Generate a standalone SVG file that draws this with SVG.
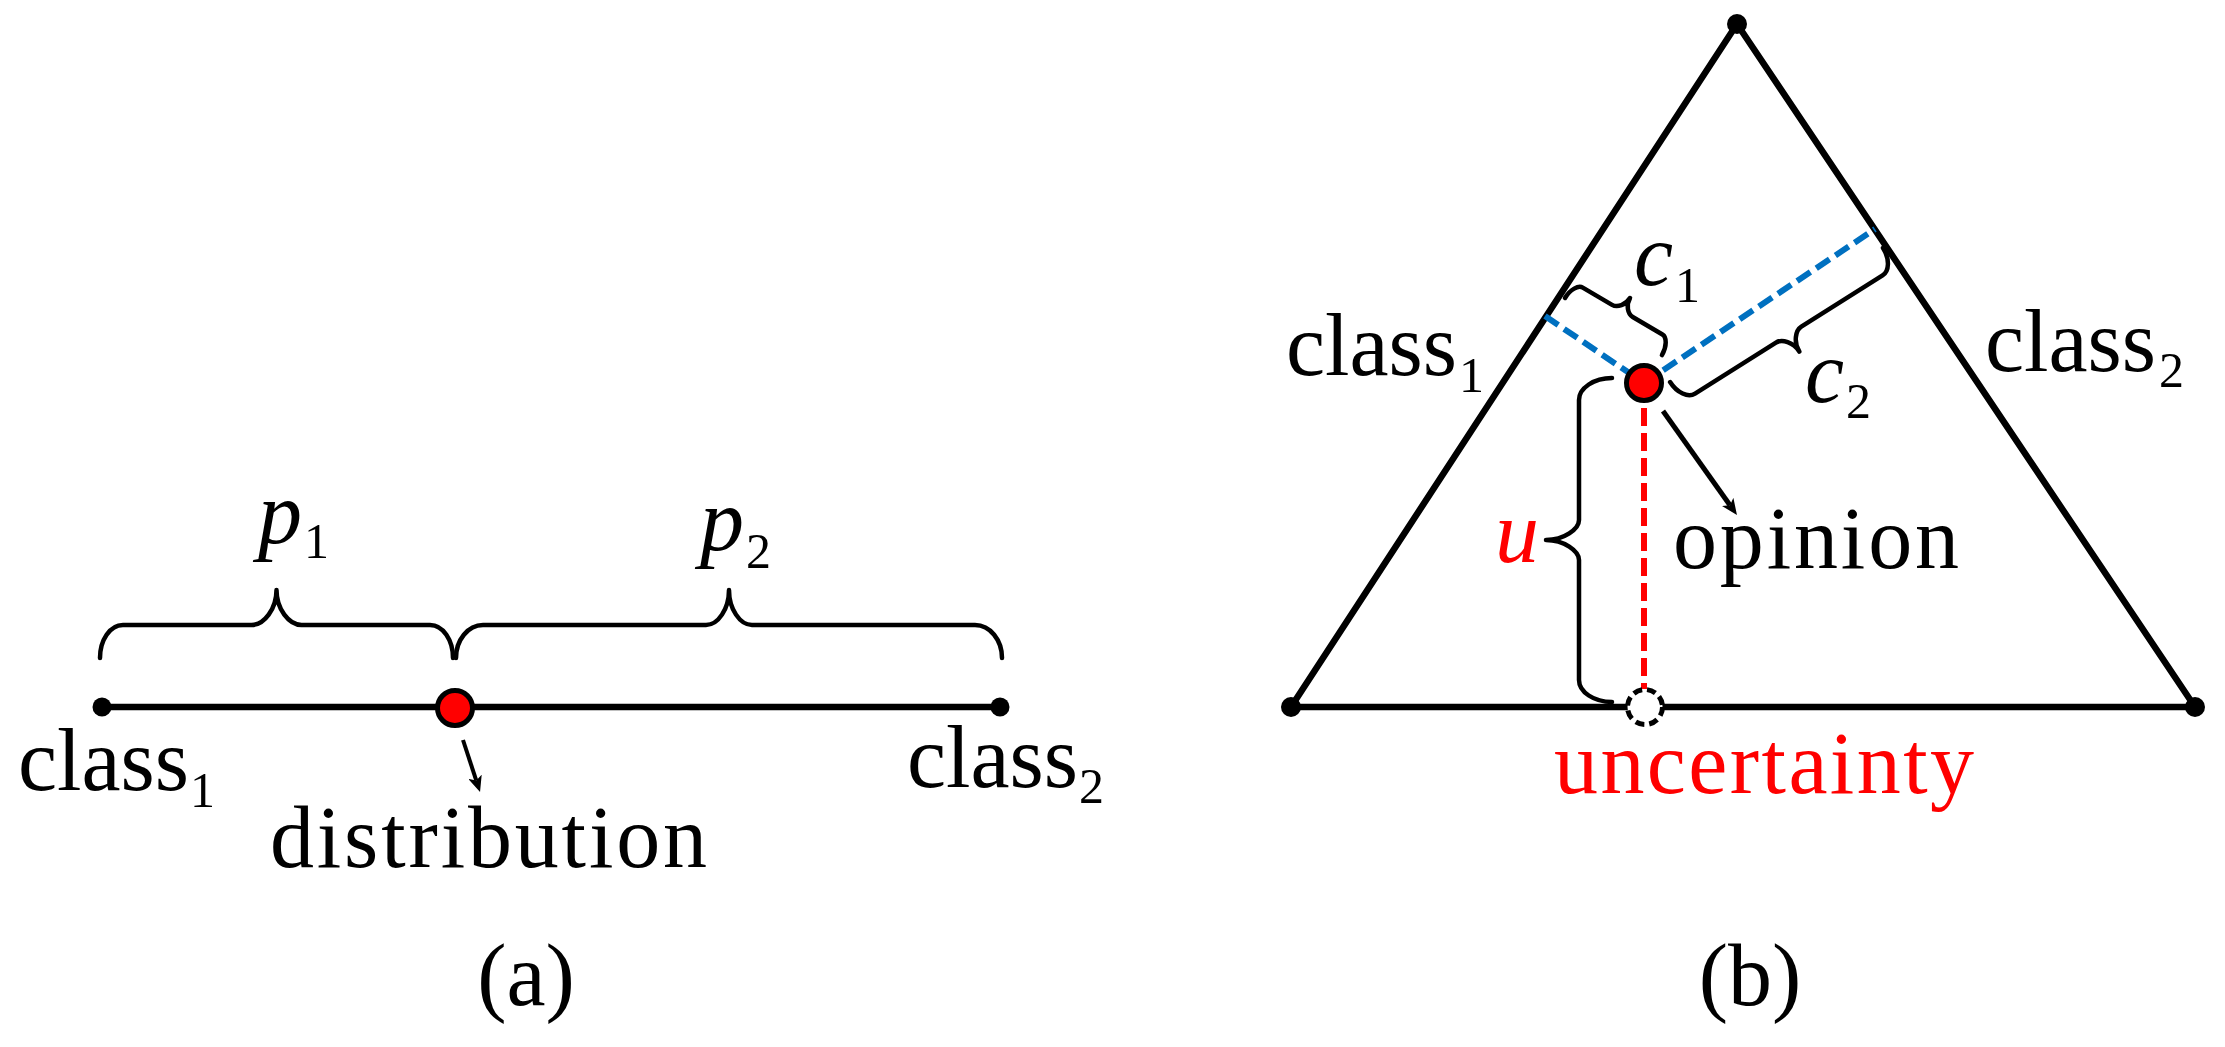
<svg xmlns="http://www.w3.org/2000/svg" width="2225" height="1047" viewBox="0 0 2225 1047">
<style>
.t{font-family:"Liberation Serif","Times New Roman",serif;font-size:88px;fill:#000}
.i{font-style:italic}
.s{font-size:50px;font-style:normal}
.red{fill:#FF0000}
.brace{fill:none;stroke:#000;stroke-width:4.5;stroke-linejoin:round;stroke-linecap:round}
.edge{fill:none;stroke:#000;stroke-width:6.5}
.dot{fill:#000}
.blue{fill:none;stroke:#0070C0;stroke-width:6;stroke-dasharray:16 7}
.reddash{fill:none;stroke:#FF0000;stroke-width:6;stroke-dasharray:18 7}
.opdot{fill:#FF0000;stroke:#000;stroke-width:5}
.arrow{fill:none;stroke:#000}
</style>
<defs>
<marker id="ah" viewBox="0 0 16 14" refX="4" refY="7" markerWidth="16" markerHeight="14" markerUnits="userSpaceOnUse" orient="auto">
<path d="M0,0 L16,7 L0,14 L4,7 z" fill="#000"/>
</marker>
</defs>
<rect width="2225" height="1047" fill="#fff"/>

<!-- Part (a) -->
<g id="a-connectors">
<line class="edge" x1="102" y1="707" x2="1000" y2="707"/>
<line class="arrow" stroke-width="4" x1="463" y1="740" x2="476.3" y2="780.6" marker-end="url(#ah)"/>
</g>
<g id="a-brace-p1">
<path class="brace" transform="translate(100,658)" d="M0,0 C0,-18 10,-33 23,-33 L151.5,-33 C164,-33 176.5,-49 176.5,-68 C176.5,-49 189,-33 201.5,-33 L330,-33 C343,-33 353,-18 353,0"/>
<text class="t i" x="258" y="543">p<tspan class="s" x="304" y="558">1</tspan></text>
</g>
<g id="a-brace-p2">
<path class="brace" transform="translate(456,658)" d="M0,0 C0,-18 12,-33 27,-33 L250,-33 C262,-33 273,-49 273,-68 C273,-49 284,-33 296,-33 L519,-33 C534,-33 546,-18 546,0"/>
<text class="t i" x="700" y="550">p<tspan class="s" x="746" y="568">2</tspan></text>
</g>
<g id="a-class1">
<circle class="dot" cx="102" cy="707" r="9.5"/>
<text class="t" x="18" y="790">class<tspan class="s" x="190" y="807">1</tspan></text>
</g>
<g id="a-class2">
<circle class="dot" cx="1000" cy="707" r="9.5"/>
<text class="t" x="907" y="787">class<tspan class="s" x="1079" y="803">2</tspan></text>
</g>
<g id="a-distribution">
<circle class="opdot" cx="455" cy="708" r="17.5"/>
<text class="t" x="270" y="867" textLength="437">distribution</text>
</g>
<text id="label-a" class="t" x="526" y="1005" text-anchor="middle" font-size="84">(a)</text>

<!-- Part (b) -->
<g id="b-connectors">
<path class="edge" d="M1737,24 L1291,707 L2195,707 Z" stroke-linejoin="round"/>
<line class="blue" x1="1545" y1="316" x2="1644" y2="383"/>
<line class="blue" x1="1644" y1="383" x2="1875" y2="229"/>
<line class="reddash" x1="1644" y1="383" x2="1644" y2="689"/>
<line class="arrow" stroke-width="5" x1="1663" y1="411" x2="1730" y2="505.2" marker-end="url(#ah)"/>
</g>
<g id="b-vertex-top"><circle class="dot" cx="1737" cy="24" r="10"/></g>
<g id="b-class1">
<circle class="dot" cx="1291" cy="707" r="10"/>
<text class="t" x="1286" y="375">class<tspan class="s" x="1459" y="392">1</tspan></text>
</g>
<g id="b-class2">
<circle class="dot" cx="2195" cy="707" r="10"/>
<text class="t" x="1985" y="371">class<tspan class="s" x="2159" y="387">2</tspan></text>
</g>
<g id="b-brace-c1">
<path class="brace" transform="translate(1565,298) rotate(30.5)" d="M0,0 C0,-10 5,-18 10,-18 L44,-18 C50,-18 56,-25 56,-33 C56,-25 62,-18 68,-18 L102.5,-18 C107.5,-18 112.5,-10 112.5,0"/>
<text class="t i" x="1634" y="285">c<tspan class="s" x="1675" y="302">1</tspan></text>
</g>
<g id="b-brace-c2">
<path class="brace" transform="translate(1883,248) rotate(147.8)" d="M0,0 C0,-13 7,-23 15,-23 L111,-23 C118,-23 126,-32 126,-43 C126,-32 134,-23 141,-23 L236.6,-23 C244.6,-23 251.6,-13 251.6,0"/>
<text class="t i" x="1805" y="402">c<tspan class="s" x="1846" y="418">2</tspan></text>
</g>
<g id="b-brace-u">
<path class="brace" transform="translate(1612,702) rotate(-90)" d="M0,0 C0,-18 10,-33 22,-33 L142,-33 C151,-33 162,-48 162,-66 C162,-48 173,-33 182,-33 L302,-33 C314,-33 324,-18 324,0"/>
<text class="t i red" x="1495" y="562">u</text>
</g>
<g id="b-opinion">
<circle class="opdot" cx="1644" cy="383" r="17.5"/>
<text class="t" x="1673" y="568" textLength="286">opinion</text>
</g>
<g id="b-uncertainty">
<circle cx="1645" cy="707" r="17.5" fill="#fff" stroke="#000" stroke-width="5" stroke-dasharray="9 5"/>
<text class="t red" x="1554" y="793" textLength="420">uncertainty</text>
</g>
<text id="label-b" class="t" x="1750" y="1005" text-anchor="middle" font-size="84">(b)</text>
</svg>
